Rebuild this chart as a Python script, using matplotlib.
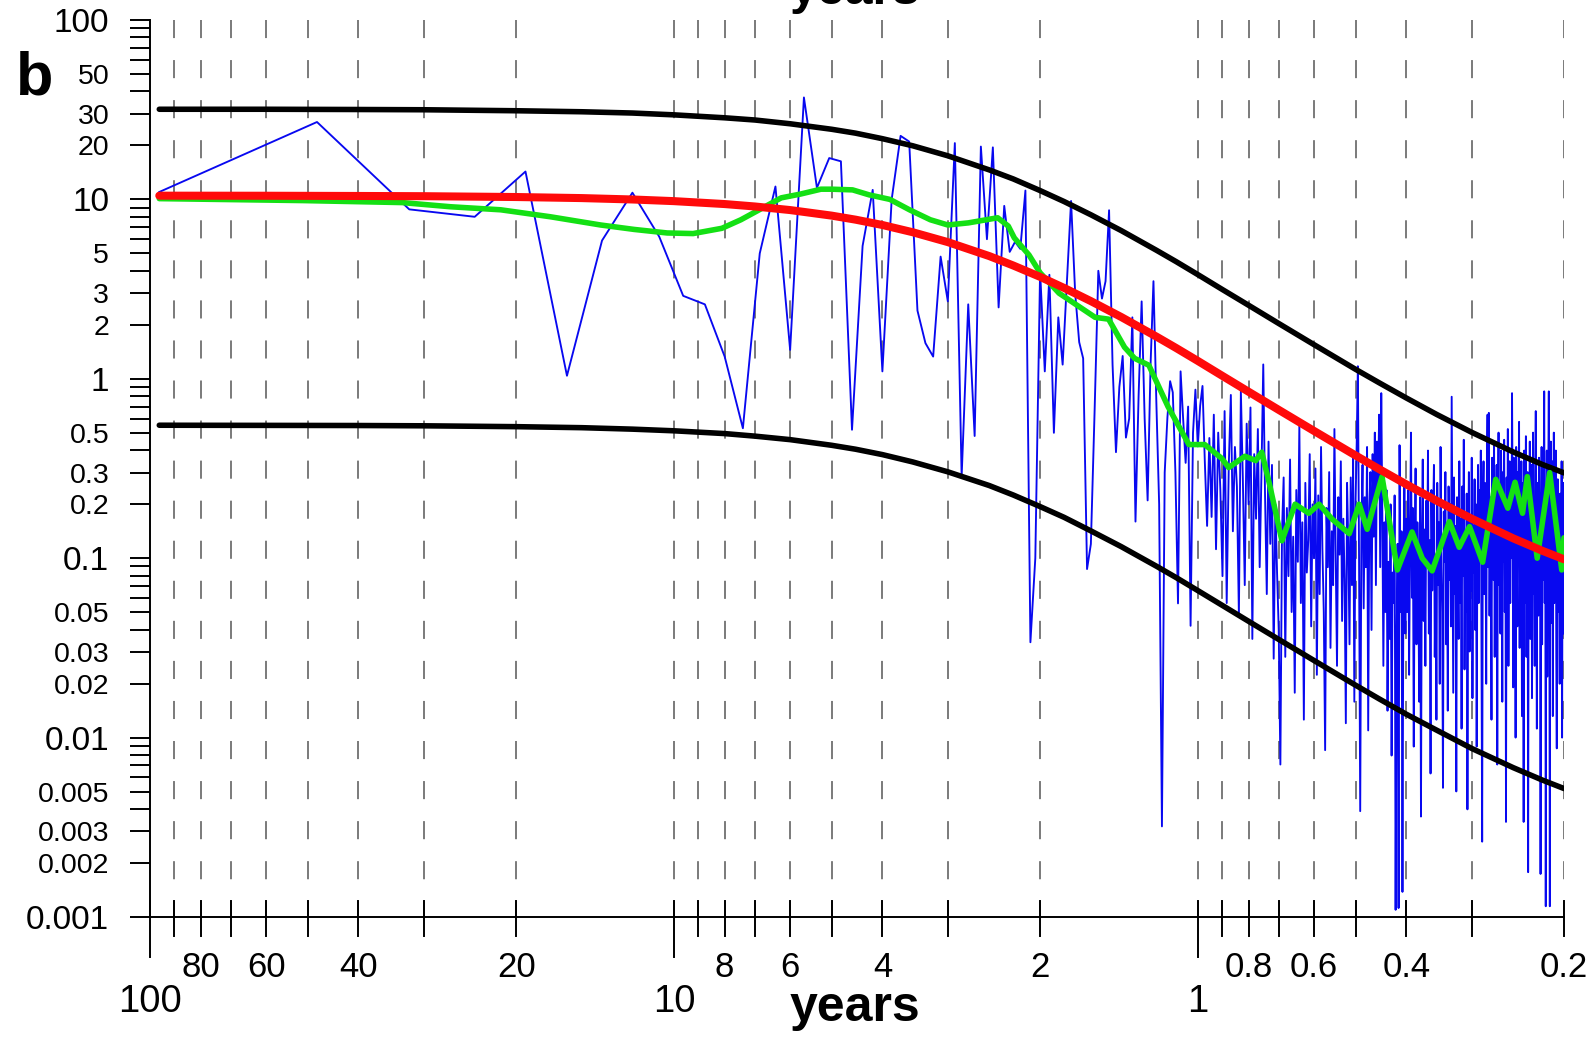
import matplotlib
matplotlib.use("Agg")
import matplotlib.pyplot as plt
import numpy as np
from matplotlib.ticker import FixedLocator, FixedFormatter, NullLocator

plt.rcParams["font.family"] = ["Liberation Sans", "DejaVu Sans"]

# spectral estimates sit at k / 96 cycles per year, k = 1..480
RECORD_YEARS = 96

# periodogram, k = 1..96
blue_low = [
    11.0, 27, 8.8, 8.0, 14.3, 1.04, 5.9, 10.9, 6.2, 2.9,
    2.6, 1.33, 0.53, 5.0, 11.8, 1.45, 37, 11.6, 17, 16.3,
    0.52, 5.5, 11.3, 1.1, 10, 22.6, 21, 2.4, 1.58, 1.33,
    4.8, 2.7, 20.6, 0.285, 2.6, 0.48, 19.7, 6.0, 19.5, 2.5,
    9.2, 5.1, 5.8, 5.3, 11.2, 0.034, 0.10, 4.0, 1.1, 3.8,
    0.5, 2.2, 1.2, 3.5, 9.8, 3.0, 1.6, 1.3, 0.087, 0.12,
    0.67, 4.0, 2.8, 3.5, 8.7, 1.2, 0.39, 0.9, 1.34, 0.47,
    0.60, 2.2, 0.16, 0.8, 2.7, 0.6, 0.21, 1.2, 3.5, 0.75,
    0.2, 0.0032, 0.3, 0.61, 0.97, 0.84, 0.3, 0.056, 1.1, 0.6,
    0.34, 0.7, 0.042, 0.5, 0.87, 0.42,
]

# periodogram, k = 97..240, as log10
blue_mid_log = [
    -0.15, -0.04, -0.46, -0.82, -0.33, -0.77, -0.20, -0.95, -0.30, -0.62,
    -1.10, -0.18, -1.25, -0.48, -0.09, -0.85, -0.38, -0.60, -1.32, -0.07,
    -0.55, -1.15, -0.25, -0.70, -0.16, -1.45, -0.42, -0.78, -0.28, -1.05,
    -0.52, 0.08, -0.65, -1.20, -0.35, -0.92, -0.48, -1.56, -0.70, -1.08,
    -1.40, -2.15, -0.85, -0.55, -1.55, -0.72, -1.10, -0.45, -1.30, -0.88,
    -1.75, -0.62, -1.02, -0.26, -1.25, -0.80, -1.90, -0.58, -1.08, -0.90,
    -0.42, -1.38, -0.70, -1.00, -0.50, -1.65, -0.65, -1.20, -0.38, -0.95,
    -1.30, -2.07, -0.72, -1.05, -0.52, -1.50, -0.85, -1.15, -0.28, -1.00,
    -1.60, -0.66, -0.98, -0.46, -1.35, -0.78, -1.12, -1.92, -0.58, -0.92,
    -1.48, -0.55, -1.15, -0.44, -1.80, -0.70, -0.36, 0.07, -1.00, -2.41,
    -0.85, -0.48, -1.28, -0.66,
    -1.05, -0.38, -1.96, -0.72, -0.52, -1.40, -0.42, -0.88, -0.30, -1.15,
    -0.35, -0.62, -0.20, -1.05, -0.08, -0.75,
    -1.60, -0.80, -1.30, -0.62, -1.85, -1.02, -1.45, -0.70, -2.10, -1.08,
    -1.25, -0.65, -2.96, -1.50, -0.92, -2.95, -0.37, -1.30, -0.85, -2.86,
    -1.05, -0.58, -1.42, -0.78,
]

# periodogram, k = 241..480, as log10
blue_high_log = [
    -1.30, -0.62, -1.65, -0.88, -0.30, -1.22, -0.72, -2.05, -0.98, -0.50,
    -1.48, -0.80, -1.10, -1.80, -0.66, -2.44, -0.92, -0.45, -1.35, -0.84,
    -1.60, -0.68, -1.05, -0.40, -1.42, -0.90, -2.20, -0.62, -1.18, -0.78,
    -0.48, -1.55, -0.98, -1.90, -0.58, -1.15, -0.80, -1.70, -0.38, -1.05,
    -1.30, -2.28, -0.74, -1.02, -0.52, -1.48, -0.86, -1.85, -0.60, -1.12,
    -0.70, -1.38, -0.10, -0.94, -1.75, -0.55, -1.20, -0.82, -2.30, -0.66,
    -1.00, -1.45, -0.46, -1.25, -0.78, -1.95, -0.60, -1.10, -0.34, -1.62,
    -0.86, -1.30, -0.64, -2.40, -0.95, -0.52, -1.52, -0.76, -1.18, -0.44,
    -1.78, -0.82, -1.08, -0.56, -1.40, -0.70, -2.05, -0.92, -0.48, -1.25,
    -0.62, -1.00, -0.40, -1.48, -2.58, -0.72, -0.46, -1.20, -0.58, -0.88,
    -1.70, -0.52, -0.20, -1.05, -0.19, -1.32, -0.66, -0.95, -1.90, -0.44,
    -0.80, -1.12, -0.36, -1.55, -0.64, -1.00, -0.48, -2.15, -0.70, -0.30,
    -1.15, -0.58, -1.42, -0.40, -0.88, -1.80, -0.52, -1.02, -0.34, -1.30,
    -0.72, -2.47, -0.55, -1.10, -0.28, -1.60, -0.82, -0.46, -1.25, -0.64,
    -1.00, -0.08, -0.70, -1.72, -0.44, -1.08, -0.60, -2.00, -0.38, -0.92,
    -1.38, -0.52, -0.80, -0.24, -1.50, -0.66, -1.05, -0.46, -1.88, -0.58,
    -0.95, -2.47, -0.40, -1.25, -0.72, -0.32, -1.55, -0.84, -0.52, -2.75,
    -0.64, -1.12, -0.35, -1.45, -0.76, -0.48, -1.78, -1.00, -0.30, -1.20,
    -0.70, -1.60, -0.52, -0.18, -1.06, -1.95, -0.58, -0.88, -1.32, -0.44,
    -0.96, -0.64, -2.76, -0.80, -0.38, -1.48, -0.70, -1.12, -0.56, -0.07,
    -1.25, -0.68, -2.94, -0.84, -0.40, -1.66, -0.72, -0.52, -0.07, -1.05,
    -2.94, -0.60, -0.35, -1.36, -0.76, -0.46, -1.88, -0.92, -0.30, -1.25,
    -0.68, -1.06, -0.40, -1.55, -2.06, -0.82, -0.56, -1.30, -0.72, -1.12,
    -1.70, -0.64, -0.95, -1.48, -0.46, -2.00, -0.80, -1.12, -0.58, -1.42,
]

# red-noise fit and its 90% bounds, read at these periods (years)
curve_periods = [96, 60, 40, 30, 20, 15, 12, 10, 8, 7, 6, 5, 4.5, 4, 3.5, 3,
                 2.5, 2.25, 2, 1.8, 1.6, 1.4, 1.2, 1.1, 1.0, 0.9, 0.8, 0.7,
                 0.6, 0.5, 0.45, 0.4, 0.35, 0.3, 0.25, 0.22, 0.2]
red_fit = [10.49, 10.48, 10.45, 10.42, 10.31, 10.17, 9.99, 9.78, 9.42, 9.13,
           8.72, 8.12, 7.71, 7.20, 6.56, 5.78, 4.83, 4.28, 3.70, 3.21, 2.71,
           2.21, 1.72, 1.485, 1.258, 1.043, 0.847, 0.670, 0.512, 0.374,
           0.313, 0.258, 0.209, 0.166, 0.129, 0.110, 0.0986]
upper_bound = [31.8, 31.8, 31.7, 31.6, 31.2, 30.8, 30.3, 29.6, 28.5, 27.7,
               26.4, 24.6, 23.4, 21.8, 19.9, 17.5, 14.6, 13.0, 11.2, 9.73,
               8.21, 6.70, 5.21, 4.50, 3.81, 3.16, 2.57, 2.03, 1.55, 1.13,
               0.948, 0.782, 0.633, 0.503, 0.391, 0.333, 0.299]
lower_bound = [0.551, 0.550, 0.549, 0.547, 0.541, 0.534, 0.524, 0.513, 0.495,
               0.479, 0.458, 0.426, 0.405, 0.378, 0.344, 0.303, 0.254, 0.225,
               0.194, 0.169, 0.142, 0.116, 0.0903, 0.0780, 0.0660, 0.0548,
               0.0445, 0.0352, 0.0269, 0.0196, 0.0164, 0.0135, 0.0110, 0.0087,
               0.0068, 0.0058, 0.0052]

# smoothed spectrum
green_periods = [96, 51, 33, 26.7, 21.4, 17.2, 13.8, 11.9, 10.3, 9.19, 8.1,
                 7.45, 6.8, 6.24, 5.74, 5.24, 5.0, 4.56, 4.24, 3.87, 3.55,
                 3.24, 3.0, 2.74, 2.41, 2.3, 2.24, 2.1, 2.0, 1.84, 1.57,
                 1.48, 1.38, 1.32, 1.24, 1.14, 1.04, 0.97, 0.90, 0.873,
                 0.813, 0.775, 0.755, 0.73, 0.691, 0.652, 0.614, 0.587,
                 0.554, 0.514, 0.492, 0.475, 0.445, 0.416, 0.390, 0.373,
                 0.357, 0.331, 0.317, 0.303, 0.286, 0.270, 0.256, 0.248,
                 0.240, 0.235, 0.225, 0.213, 0.202, 0.2]
green_smooth = [10.1, 9.85, 9.6, 9.1, 8.75, 8.0, 7.2, 6.8, 6.5, 6.45, 6.9,
                7.7, 8.9, 10.2, 10.7, 11.4, 11.4, 11.3, 10.6, 10.0, 8.75,
                7.7, 7.2, 7.4, 7.9, 7.1, 6.1, 4.9, 3.9, 3.0, 2.2, 2.15, 1.5,
                1.3, 1.19, 0.70, 0.43, 0.43, 0.36, 0.32, 0.37, 0.35, 0.39,
                0.26, 0.125, 0.2, 0.178, 0.2, 0.165, 0.137, 0.2, 0.145,
                0.285, 0.086, 0.14, 0.10, 0.085, 0.16, 0.115, 0.15, 0.095,
                0.275, 0.19, 0.265, 0.178, 0.285, 0.10, 0.30, 0.086, 0.13]

# axis furniture
x_minor_periods = [90, 80, 70, 60, 50, 40, 30, 20, 9, 8, 7, 6, 5, 4, 3, 2,
                   0.9, 0.8, 0.7, 0.6, 0.5, 0.4, 0.3, 0.2]
x_major_periods = [100, 10, 1]
x_minor_labels = {80: "80", 60: "60", 40: "40", 20: "20", 8: "8", 6: "6",
                  4: "4", 2: "2", 0.8: "0.8", 0.6: "0.6", 0.4: "0.4", 0.2: "0.2"}
x_major_labels = {100: "100", 10: "10", 1: "1"}

y_major = [0.001, 0.01, 0.1, 1, 10, 100]
y_major_labels = ["0.001", "0.01", "0.1", "1", "10", "100"]
y_minor_mult = [2, 3, 4, 5, 6, 7, 8, 9]
y_minor_named = [2, 3, 5]

W_PX, H_PX = 1589, 1042
AX_L, AX_R, AX_T, AX_B = 150, 1564, 20, 917
ax_h = AX_B - AX_T


def below_axis(px):
    """pixels below the bottom axis -> axes fraction"""
    return -px / ax_h


fig = plt.figure(figsize=(W_PX / 100, H_PX / 100), dpi=100)
ax = fig.add_axes([AX_L / W_PX, 1 - AX_B / H_PX,
                   (AX_R - AX_L) / W_PX, ax_h / H_PX])
ax.set_xscale("log")
ax.set_yscale("log")
ax.set_xlim(100, 0.2)
ax.set_ylim(0.001, 100)

# dashed period lines
for p in x_minor_periods + x_major_periods[1:]:
    ax.plot([p, p], [100, 0.001], color="#7a7a7a", lw=1.4,
            ls=(0, (9.3, 11.3)), zorder=0.5)

k = np.arange(1, 5 * RECORD_YEARS + 1)
periods = RECORD_YEARS / k
blue = np.concatenate([np.array(blue_low),
                       10.0 ** np.array(blue_mid_log),
                       10.0 ** np.array(blue_high_log)])
ax.plot(periods, blue, color="#0808f0", lw=1.35, zorder=2)

ax.plot(curve_periods, upper_bound, color="black", lw=4.0,
        solid_capstyle="round", zorder=3)
ax.plot(curve_periods, lower_bound, color="black", lw=4.0,
        solid_capstyle="round", zorder=3)
ax.plot(green_periods, green_smooth, color="#14e014", lw=4.0,
        solid_joinstyle="round", solid_capstyle="round", zorder=4)
ax.plot(curve_periods, red_fit, color="#ff0a0a", lw=5.8,
        solid_capstyle="round", zorder=5)

# spines
for side in ("top", "right"):
    ax.spines[side].set_visible(False)
for side in ("left", "bottom"):
    ax.spines[side].set_linewidth(1.4)

# y axis ticks
y_minor, y_minor_text = [], []
for d in y_major[:-1]:
    for m in y_minor_mult:
        y_minor.append(m * d)
        y_minor_text.append(f"{m * d:.3g}" if m in y_minor_named else "")
ax.yaxis.set_major_locator(FixedLocator(y_major))
ax.yaxis.set_major_formatter(FixedFormatter(y_major_labels))
ax.yaxis.set_minor_locator(FixedLocator(y_minor))
ax.yaxis.set_minor_formatter(FixedFormatter(y_minor_text))
ax.tick_params(axis="y", which="both", direction="out", length=14.4,
               width=1.4, pad=15)
ax.tick_params(axis="y", which="major", labelsize=24)
ax.tick_params(axis="y", which="minor", labelsize=20.5)

# x axis ticks (drawn by hand: they cross the axis, majors reach further down)
ax.xaxis.set_major_locator(NullLocator())
ax.xaxis.set_minor_locator(NullLocator())
xtrans = ax.get_xaxis_transform()
for p in x_minor_periods:
    ax.plot([p, p], [16 / ax_h, below_axis(19)], transform=xtrans,
            color="black", lw=1.4, clip_on=False)
for p in x_major_periods:
    ax.plot([p, p], [16 / ax_h, below_axis(40)], transform=xtrans,
            color="black", lw=1.4, clip_on=False)
for p, lab in x_minor_labels.items():
    ax.text(p, below_axis(60), lab, transform=xtrans, ha="center",
            va="baseline", fontsize=25)
for p, lab in x_major_labels.items():
    ax.text(p, below_axis(95), lab, transform=xtrans, ha="center",
            va="baseline", fontsize=27.5)

fig.text(855 / W_PX, 1 - 1021 / H_PX, "years", ha="center", va="baseline",
         fontsize=36, fontweight="bold")
fig.text(855 / W_PX, 1 - 4 / H_PX, "years", ha="center", va="baseline",
         fontsize=36, fontweight="bold")
fig.text(16 / W_PX, 1 - 94 / H_PX, "b", ha="left", va="baseline",
         fontsize=44, fontweight="bold")

fig.savefig("out.png", dpi=100, facecolor="white")
